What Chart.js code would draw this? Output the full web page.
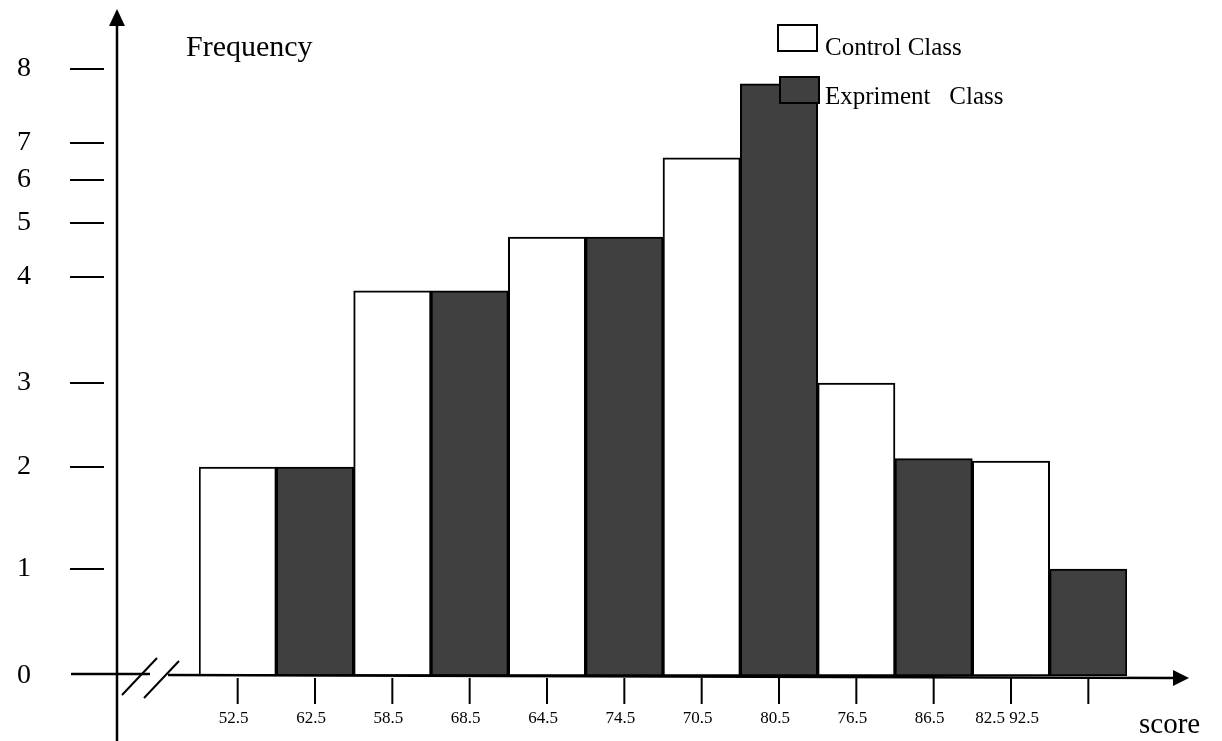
<!DOCTYPE html>
<html>
<head>
<meta charset="utf-8">
<script src="https://cdn.jsdelivr.net/npm/chart.js@4/dist/chart.umd.min.js"></script>
<style>
  html, body { margin: 0; padding: 0; background: #fff; }
  #wrap { width: 1222px; height: 741px; }
</style>
</head>
<body>
<div id="wrap"><canvas id="chart" width="1222" height="741"></canvas></div>
<script>
// Class groups (each one has a control bar and an experiment bar)
const categories = ['52.5-62.5', '58.5-68.5', '64.5-74.5', '70.5-80.5', '76.5-86.5', '82.5-92.5'];
const controlClass = [2, 3.87, 4.74, 6.6, 3, 2.07];
const experimentClass = [2, 3.87, 4.74, 7.8, 2.1, 1];

// Tick labels as printed under the axis, one per bar
const xTickLabels = ['52.5', '62.5', '58.5', '68.5', '64.5', '74.5', '70.5', '80.5', '76.5', '86.5', '82.5 92.5', ''];
const yTicks = [0, 1, 2, 3, 4, 5, 6, 7, 8];

const SERIF = '"Liberation Serif", "Times New Roman", serif';
const DARK = '#404040';

// The printed y axis is not evenly spaced, so use a piecewise linear scale
class PiecewiseScale extends Chart.LinearScale {
    static id = 'piecewise';
    static defaults = Chart.LinearScale.defaults;

    valueToFraction(v) {
        const stops = this.options.stops;
        if (v <= 0) return stops[0] + (stops[1] - stops[0]) * v;
        const n = stops.length - 1;
        if (v >= n) return stops[n] + (stops[n] - stops[n - 1]) * (v - n);
        const i = Math.floor(v);
        return stops[i] + (stops[i + 1] - stops[i]) * (v - i);
    }

    getPixelForValue(value) {
        if (value === null || isNaN(value)) return NaN;
        return this.getPixelForDecimal(this.valueToFraction(value));
    }

    getValueForPixel(pixel) {
        const f = this.getDecimalForPixel(pixel);
        const stops = this.options.stops;
        for (let i = 0; i < stops.length - 1; i++) {
            if (f <= stops[i + 1]) return i + (f - stops[i]) / (stops[i + 1] - stops[i]);
        }
        return stops.length - 1;
    }
}
Chart.register(PiecewiseScale);

const axesPlugin = {
    id: 'handAxes',
    afterDatasetsDraw(chart) {
        const ctx = chart.ctx;
        const y = chart.scales.y;
        const x2 = chart.scales.x2;
        const base = y.getPixelForValue(0);
        ctx.save();
        ctx.strokeStyle = '#000';
        ctx.fillStyle = '#000';

        // y axis with arrow
        ctx.lineWidth = 2.5;
        ctx.beginPath();
        ctx.moveTo(117, 741);
        ctx.lineTo(117, 22);
        ctx.stroke();
        ctx.beginPath();
        ctx.moveTo(117, 9);
        ctx.lineTo(109, 26);
        ctx.lineTo(125, 26);
        ctx.closePath();
        ctx.fill();

        // x axis with break and arrow
        ctx.beginPath();
        ctx.moveTo(71, base - 2);
        ctx.lineTo(150, base - 2);
        ctx.moveTo(168, base - 1);
        ctx.lineTo(1175, base + 2);
        ctx.stroke();
        ctx.beginPath();
        ctx.moveTo(1189, base + 2);
        ctx.lineTo(1173, base - 6);
        ctx.lineTo(1173, base + 10);
        ctx.closePath();
        ctx.fill();

        ctx.lineWidth = 2;
        ctx.beginPath();
        ctx.moveTo(122, 695);
        ctx.lineTo(157, 658);
        ctx.moveTo(144, 698);
        ctx.lineTo(179, 661);
        ctx.stroke();

        // y ticks
        ctx.font = '28px ' + SERIF;
        ctx.textAlign = 'center';
        ctx.textBaseline = 'middle';
        yTicks.forEach(v => {
            const py = y.getPixelForValue(v);
            if (v > 0) {
                ctx.beginPath();
                ctx.moveTo(70, py);
                ctx.lineTo(104, py);
                ctx.stroke();
            }
            ctx.fillText(String(v), 24, py);
        });

        // x ticks
        ctx.font = '17px ' + SERIF;
        ctx.textBaseline = 'alphabetic';
        xTickLabels.forEach((lab, i) => {
            const px = x2.getPixelForValue(i);
            ctx.beginPath();
            ctx.moveTo(px, base + 2);
            ctx.lineTo(px, base + 28);
            ctx.stroke();
            if (lab) ctx.fillText(lab, px - 4, 723);
        });

        // axis titles
        ctx.textAlign = 'left';
        ctx.font = '30px ' + SERIF;
        ctx.fillText('Frequency', 186, 56);
        ctx.font = '29px ' + SERIF;
        ctx.fillText('score', 1139, 733);

        // legend
        ctx.lineWidth = 2;
        ctx.fillStyle = '#fff';
        ctx.fillRect(778, 25, 39, 26);
        ctx.strokeRect(778, 25, 39, 26);
        ctx.fillStyle = DARK;
        ctx.fillRect(780, 77, 39, 26);
        ctx.strokeRect(780, 77, 39, 26);
        ctx.fillStyle = '#000';
        ctx.font = '25px ' + SERIF;
        ctx.fillText(chart.data.datasets[0].label, 825, 55);
        ctx.fillText(chart.data.datasets[1].label, 825, 104);
        ctx.restore();
    }
};

new Chart(document.getElementById('chart'), {
    type: 'bar',
    data: {
        labels: categories,
        datasets: [
            {
                label: 'Control Class',
                data: controlClass,
                backgroundColor: '#fff',
                borderColor: '#000',
                borderWidth: 2,
                borderSkipped: false
            },
            {
                label: 'Expriment   Class',
                data: experimentClass,
                backgroundColor: DARK,
                borderColor: '#000',
                borderWidth: 2,
                borderSkipped: false
            }
        ]
    },
    options: {
        responsive: false,
        animation: false,
        layout: { padding: { left: 199, right: 95, top: 69, bottom: 65 } },
        datasets: { bar: { barPercentage: 1, categoryPercentage: 1 } },
        plugins: { legend: { display: false }, tooltip: { enabled: false } },
        scales: {
            x: { type: 'category', display: false, offset: true },
            x2: { type: 'category', labels: xTickLabels, display: false, offset: true },
            y: {
                type: 'piecewise',
                display: false,
                min: 0,
                max: 8,
                stops: [0, 0.1763, 0.3443, 0.4827, 0.6573, 0.7463, 0.8171, 0.8781, 1]
            }
        }
    },
    plugins: [axesPlugin]
});
</script>
</body>
</html>
